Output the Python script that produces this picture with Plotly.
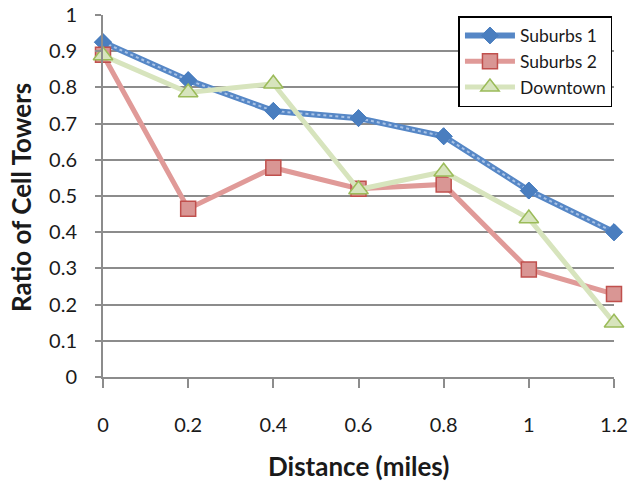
import plotly.graph_objects as go

# Distance from site (miles) and ratio of cell towers per area type
distance = [0, 0.2, 0.4, 0.6, 0.8, 1.0, 1.2]
suburbs_1 = [0.925, 0.82, 0.735, 0.715, 0.665, 0.515, 0.40]
suburbs_2 = [0.89, 0.465, 0.578, 0.52, 0.532, 0.297, 0.229]
downtown = [0.888, 0.786, 0.81, 0.518, 0.567, 0.438, 0.15]

y_ticks = [0, 0.1, 0.2, 0.3, 0.4, 0.5, 0.6, 0.7, 0.8, 0.9, 1]
x_ticks = [0, 0.2, 0.4, 0.6, 0.8, 1.0, 1.2]
x_tick_text = ["0", "0.2", "0.4", "0.6", "0.8", "1", "1.2"]
y_tick_text = ["0", "0.1", "0.2", "0.3", "0.4", "0.5", "0.6", "0.7", "0.8", "0.9", "1"]

FONT = "Lato, 'Open Sans', sans-serif"
GRID = "#8c8c8c"
TEXT = "#1a1a1a"
BLUE = "#4a7ebf"

fig = go.Figure()

# Suburbs 1: solid blue line with a light dotted overlay for the hatched look
fig.add_trace(go.Scatter(
    x=distance, y=suburbs_1, name="Suburbs 1", mode="lines+markers",
    legendgroup="s1",
    line=dict(color="#5687c6", width=6),
    marker=dict(symbol="diamond", size=13, color=BLUE,
                line=dict(color=BLUE, width=1)),
    cliponaxis=False,
))
fig.add_trace(go.Scatter(
    x=distance, y=suburbs_1, mode="lines", legendgroup="s1", showlegend=False,
    line=dict(color="#a9c3e6", width=2, dash="dot"),
    hoverinfo="skip", cliponaxis=False,
))
fig.add_trace(go.Scatter(
    x=distance, y=suburbs_1, mode="markers", legendgroup="s1", showlegend=False,
    marker=dict(symbol="diamond", size=13, color=BLUE,
                line=dict(color=BLUE, width=1)),
    cliponaxis=False,
))
fig.add_trace(go.Scatter(
    x=distance, y=suburbs_2, name="Suburbs 2", mode="lines+markers",
    line=dict(color="#e09a98", width=5),
    marker=dict(symbol="square", size=15, color="#d99694",
                line=dict(color="#c0504d", width=1.5)),
    cliponaxis=False,
))
fig.add_trace(go.Scatter(
    x=distance, y=downtown, name="Downtown", mode="lines+markers",
    line=dict(color="#d7e4bd", width=5),
    marker=dict(symbol="triangle-up", size=17, color="#d7e4bd",
                line=dict(color="#9bbb59", width=1.5)),
    cliponaxis=False,
))

fig.update_layout(
    width=632, height=481,
    margin=dict(l=103, r=18, t=15, b=104, autoexpand=False),
    paper_bgcolor="white", plot_bgcolor="white",
    font=dict(family=FONT, size=20, color=TEXT),
    showlegend=True,
    legend=dict(
        x=0.997, y=0.997, xanchor="right", yanchor="top",
        bgcolor="white", bordercolor="black", borderwidth=1.5,
        font=dict(family=FONT, size=17.5, color=TEXT),
        itemwidth=50, tracegroupgap=0,
    ),
    annotations=[
        dict(text="<b>Distance (miles)</b>", xref="paper", yref="paper",
             x=0.5, y=-0.245, xanchor="center", yanchor="middle",
             showarrow=False, font=dict(family=FONT, size=26, color=TEXT)),
        dict(text="<b>Ratio of Cell Towers</b>", xref="paper", yref="paper",
             x=-0.16, y=0.495, xanchor="center", yanchor="middle",
             textangle=-90, showarrow=False,
             font=dict(family=FONT, size=26, color=TEXT)),
    ],
)

fig.update_xaxes(
    range=[0, 1.2], tickvals=x_ticks, ticktext=x_tick_text,
    showgrid=False, zeroline=False,
    showline=True, linecolor=GRID, linewidth=2,
    ticks="outside", ticklen=9, tickwidth=1.5, tickcolor=GRID,
    ticklabelstandoff=20,
)
fig.update_yaxes(
    range=[0, 1], tickvals=y_ticks, ticktext=y_tick_text,
    showgrid=True, gridcolor=GRID, gridwidth=1.5, zeroline=False,
    showline=True, linecolor=GRID, linewidth=2,
    ticks="outside", ticklen=6, tickwidth=1.5, tickcolor=GRID,
    ticklabelstandoff=14,
)

fig.write_html("out.html")
